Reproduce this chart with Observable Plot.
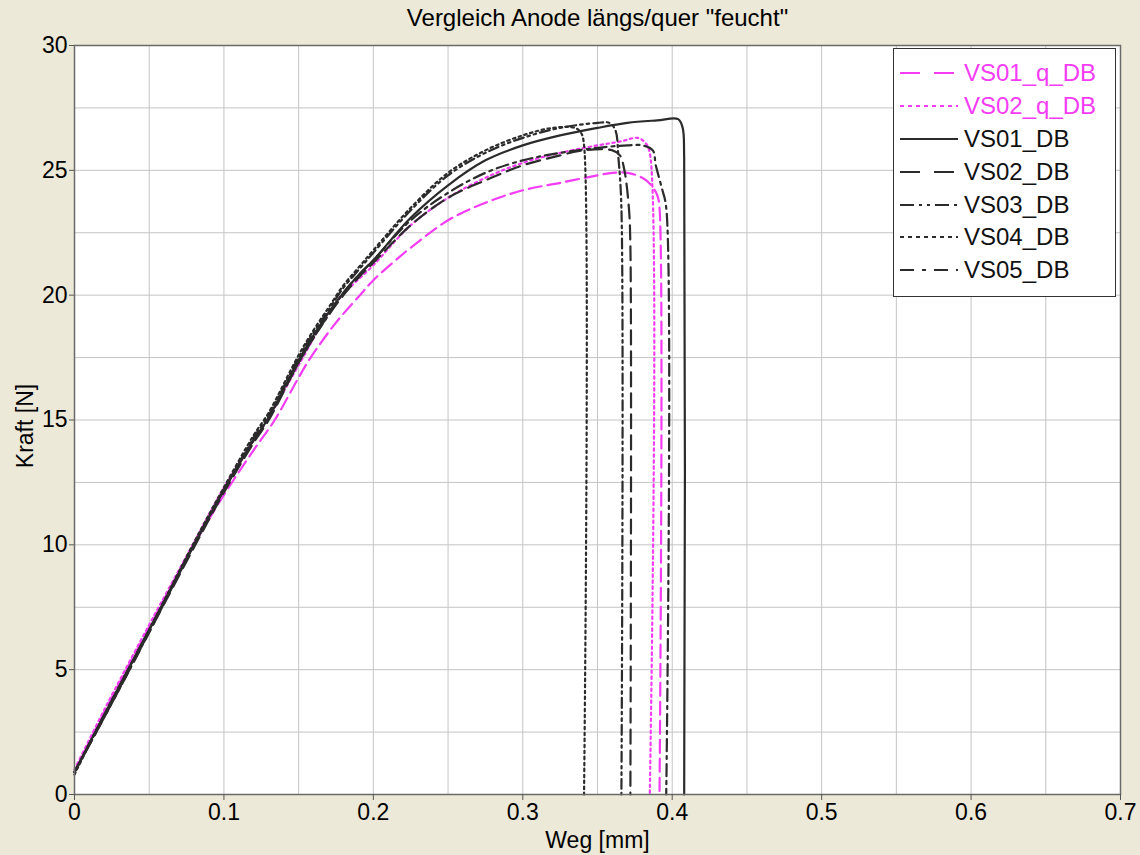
<!DOCTYPE html>
<html><head><meta charset="utf-8">
<script src="https://cdn.jsdelivr.net/npm/d3@7"></script>
<script src="https://cdn.jsdelivr.net/npm/@observablehq/plot@0.6"></script>
<style>
body{margin:0;background:#ECE9D8;font-family:"Liberation Sans",Arial,sans-serif;}
#wrap{position:relative;width:1140px;height:855px;overflow:hidden;}
#legend{position:absolute;left:893px;top:48px;width:221px;height:239px;border:1.5px solid #333;background:#fff;box-sizing:content-box;padding-top:8px;}
.row{height:32.8px;display:flex;align-items:center;font-size:24px;line-height:24px;}
.row svg{margin-left:6px;margin-right:6px;}
</style></head><body><div id="wrap"></div>
<script>
const seriesNames = ["VS01_q_DB","VS02_q_DB","VS01_DB","VS02_DB","VS03_DB","VS04_DB","VS05_DB"];

const vs01q_x = [0,0.02,0.05,0.08,0.1,0.12,0.134,0.15,0.158,0.175,0.191,0.2,0.213,0.225,0.25,0.275,0.3,0.325,0.35,0.36,0.37,0.38,0.386,0.39,0.3915,0.3915];
const vs01q_y = [0.9,3.3,6.7,10.0,12.0,13.8,15.0,16.7,17.5,18.9,20.0,20.6,21.3,21.9,23.0,23.7,24.2,24.5,24.8,24.9,24.9,24.7,24.4,24.0,23.5,0];

const vs02q_x = [0,0.02,0.05,0.08,0.1,0.12,0.13,0.15,0.175,0.2,0.225,0.25,0.275,0.3,0.325,0.35,0.365,0.377,0.382,0.385,0.385];
const vs02q_y = [1.0,3.4,6.8,10.1,12.3,14.2,15.1,17.2,19.7,21.2,22.8,23.9,24.7,25.3,25.7,26.0,26.15,26.3,26.1,25.7,0];

const vs01_x = [0,0.02,0.05,0.08,0.1,0.12,0.13,0.15,0.16,0.17,0.18,0.19,0.2,0.225,0.25,0.275,0.3,0.325,0.35,0.37,0.39,0.404,0.407,0.408,0.408];
const vs01_y = [0.9,3.2,6.6,10.0,12.2,14.2,15.1,17.4,18.4,19.3,20.1,20.8,21.4,23.1,24.4,25.4,26.0,26.4,26.7,26.9,27.0,27.05,26.7,25.5,0];

const vs02_x = [0,0.02,0.05,0.08,0.1,0.12,0.13,0.15,0.16,0.17,0.18,0.19,0.2,0.225,0.25,0.275,0.3,0.325,0.34,0.36,0.365,0.368,0.371,0.372,0.372];
const vs02_y = [0.9,3.1,6.5,9.9,12.1,14.1,15.0,17.3,18.3,19.2,20.0,20.7,21.3,22.8,23.9,24.6,25.2,25.6,25.8,25.8,25.6,25.0,23.5,22.0,0];

const vs03_x = [0,0.02,0.05,0.08,0.1,0.12,0.13,0.15,0.16,0.17,0.18,0.19,0.2,0.225,0.25,0.275,0.3,0.325,0.35,0.358,0.362,0.364,0.366,0.366];
const vs03_y = [0.9,3.2,6.6,10.0,12.2,14.3,15.2,17.5,18.5,19.4,20.3,21.0,21.7,23.4,24.8,25.7,26.3,26.7,26.9,26.9,26.6,25.5,23.5,0];

const vs04_x = [0,0.02,0.05,0.08,0.1,0.12,0.13,0.15,0.16,0.17,0.18,0.19,0.2,0.225,0.25,0.275,0.3,0.32,0.335,0.339,0.341,0.341];
const vs04_y = [0.8,3.2,6.6,10.1,12.3,14.4,15.3,17.6,18.6,19.5,20.4,21.1,21.8,23.5,24.9,25.8,26.4,26.7,26.7,26.5,26.0,0];

const vs05_x = [0,0.02,0.05,0.08,0.1,0.12,0.13,0.15,0.16,0.17,0.18,0.19,0.2,0.225,0.25,0.275,0.3,0.325,0.35,0.37,0.38,0.387,0.389,0.393,0.396,0.396];
const vs05_y = [0.9,3.1,6.5,10.0,12.2,14.2,15.1,17.3,18.3,19.2,20.1,20.8,21.4,23.0,24.1,24.9,25.4,25.7,25.9,26.0,26.0,25.8,25.2,24.3,23.5,0];

const xTicks = [0,0.1,0.2,0.3,0.4,0.5,0.6,0.7];
const yTicks = [0,5,10,15,20,25,30];
const xGrid = [0.05,0.1,0.15,0.2,0.25,0.3,0.35,0.4,0.45,0.5,0.55,0.6,0.65];
const yGrid = [2.5,5,7.5,10,12.5,15,17.5,20,22.5,25,27.5];

const titleText = 'Vergleich Anode längs/quer "feucht"';
const xLabel = "Weg [mm]";
const yLabel = "Kraft [N]";

// styles (kept separate from data)
const seriesX = [vs01q_x,vs02q_x,vs01_x,vs02_x,vs03_x,vs04_x,vs05_x];
const seriesY = [vs01q_y,vs02q_y,vs01_y,vs02_y,vs03_y,vs04_y,vs05_y];
const PINK = "#f53cf5", DARK = "#2b2b2b";
const seriesColor = [PINK,PINK,DARK,DARK,DARK,DARK,DARK];
const seriesDash = ["13,6","2.5,3.5",null,"14,7","10,4,2.5,4,2.5,4","2.5,3.5","12,5,3,5"];
const legendDash = ["20,14","4,4",null,"20,14","14,5,3,5,3,5","4,4","14,8,4,8"];

const lineMarks = seriesNames.map((name,i) => {
  const rows = seriesX[i].map((x,j) => ({x, y: seriesY[i][j]}));
  return Plot.line(rows, {x:"x", y:"y", stroke: seriesColor[i], strokeWidth: 2.2, strokeDasharray: seriesDash[i] || undefined, curve:"catmull-rom"});
});

const chart = Plot.plot({
  width: 1140, height: 855,
  marginLeft: 74, marginRight: 20, marginTop: 45, marginBottom: 61,
  style: {background: "transparent", fontFamily: '"Liberation Sans", Arial, sans-serif', color: "#000"},
  x: {domain: [0,0.7]},
  y: {domain: [0,30]},
  marks: [
    Plot.frame({fill: "white"}),
    Plot.gridX(xGrid, {stroke: "#c4c4c4", strokeOpacity: 1}),
    Plot.gridY(yGrid, {stroke: "#c4c4c4", strokeOpacity: 1}),
    ...lineMarks,
    Plot.frame({stroke: "#6a6a6a", strokeWidth: 1.5}),
    Plot.axisX({ticks: xTicks, tickFormat: d => String(d), tickSize: 6, tickPadding: 3, fontSize: 23, label: null, stroke: "#555"}),
    Plot.axisY({ticks: yTicks, tickFormat: d => String(d), tickSize: 5, tickPadding: 2, fontSize: 23, label: null, stroke: "#555"}),
    Plot.text([titleText], {text: d => d, frameAnchor: "top", lineAnchor: "middle", dy: -27, fontSize: 24, fill: "#000"}),
    Plot.text([xLabel], {text: d => d, frameAnchor: "bottom", lineAnchor: "middle", dy: 46, fontSize: 23, fill: "#000"}),
    Plot.text([yLabel], {text: d => d, frameAnchor: "left", textAnchor: "middle", lineAnchor: "middle", dx: -49, dy: 6, rotate: -90, fontSize: 23, fill: "#000"})
  ]
});
const wrap = document.getElementById("wrap");
wrap.appendChild(chart);

const legend = document.createElement("div");
legend.id = "legend";
seriesNames.forEach((name,i) => {
  const row = document.createElement("div");
  row.className = "row";
  row.style.color = seriesColor[i] === PINK ? PINK : "#111";
  const svg = document.createElementNS("http://www.w3.org/2000/svg","svg");
  svg.setAttribute("width", 58); svg.setAttribute("height", 10);
  const ln = document.createElementNS("http://www.w3.org/2000/svg","line");
  ln.setAttribute("x1",0); ln.setAttribute("x2",58); ln.setAttribute("y1",5); ln.setAttribute("y2",5);
  ln.setAttribute("stroke", seriesColor[i]); ln.setAttribute("stroke-width", 2);
  if (legendDash[i]) ln.setAttribute("stroke-dasharray", legendDash[i]);
  svg.appendChild(ln);
  row.appendChild(svg);
  const sp = document.createElement("span"); sp.textContent = name;
  row.appendChild(sp);
  legend.appendChild(row);
});
wrap.appendChild(legend);
</script>
</body></html>
